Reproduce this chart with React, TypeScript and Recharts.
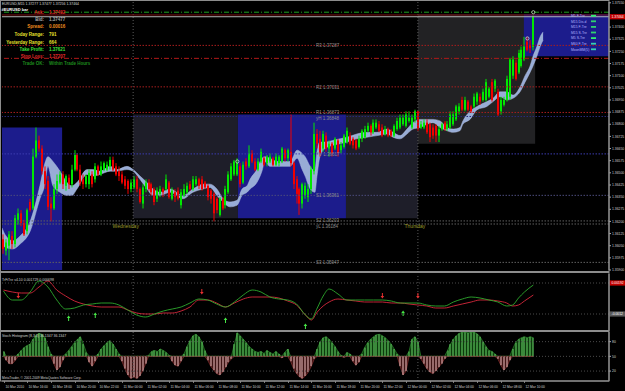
import React from "react";
import {
  ComposedChart,
  Bar,
  Area,
  Line,
  Scatter,
  XAxis,
  YAxis,
  ReferenceLine,
  ReferenceArea,
  ReferenceDot,
} from "recharts";

const FONT = "'Liberation Sans', Arial, sans-serif";
const X_DOMAIN: [number, number] = [-0.507, 204.56];
const PRICE_DOMAIN: [number, number] = [1.359, 1.37555];
const BULL = "#00e800";
const BEAR = "#f00000";
const AXIS = "#a8a8a8";
const AXIS_TXT = "#d0d0d0";

// ---------------- candles (EURUSD M15) ----------------
const candleOpen = [
  1.3609, 1.3602, 1.3605, 1.3611, 1.3606, 1.3621, 1.3625, 1.3619, 1.3614, 1.3632,
  1.3628, 1.366, 1.367, 1.3665, 1.3651, 1.3645, 1.3631, 1.3628, 1.364, 1.3644,
  1.3649, 1.3642, 1.3647, 1.3643, 1.3652, 1.3661, 1.3652, 1.3646, 1.3643, 1.3643,
  1.3649, 1.3646, 1.3654, 1.3649, 1.3652, 1.3652, 1.3654, 1.3658, 1.3654, 1.3651,
  1.3649, 1.3646, 1.3645, 1.364, 1.3641, 1.3646, 1.364, 1.3631, 1.364, 1.3644,
  1.3643, 1.364, 1.3634, 1.3637, 1.364, 1.364, 1.3644, 1.3634, 1.3638, 1.3639,
  1.363, 1.3636, 1.3638, 1.3643, 1.364, 1.3643, 1.3646, 1.3646, 1.3644, 1.3642,
  1.3639, 1.3637, 1.3634, 1.3624, 1.3634, 1.363, 1.3638, 1.3646, 1.3649, 1.3649,
  1.3654, 1.3644, 1.3657, 1.3654, 1.3662, 1.3657, 1.3652, 1.3657, 1.3659, 1.3656,
  1.3657, 1.3659, 1.3655, 1.3656, 1.3657, 1.3664, 1.3659, 1.3663, 1.3656, 1.3646,
  1.364, 1.3631, 1.3636, 1.3635, 1.364, 1.3651, 1.3674, 1.3671, 1.3665, 1.3673,
  1.3665, 1.3668, 1.3665, 1.367, 1.3664, 1.3666, 1.3669, 1.3673, 1.3671, 1.367,
  1.3666, 1.3671, 1.3672, 1.3676, 1.3679, 1.3675, 1.3678, 1.368, 1.3678, 1.3674,
  1.3677, 1.3676, 1.3673, 1.3677, 1.3678, 1.368, 1.3679, 1.3682, 1.3678, 1.3683,
  1.3688, 1.3678, 1.3678, 1.3681, 1.368, 1.3678, 1.3679, 1.3673, 1.3677, 1.3681,
  1.3677, 1.3678, 1.368, 1.3683, 1.3688, 1.3695, 1.3689, 1.3694, 1.3691, 1.3691,
  1.3694, 1.3697, 1.3695, 1.3695, 1.3697, 1.3706, 1.3702, 1.37, 1.3688, 1.3692,
  1.3695, 1.3697, 1.371, 1.3718, 1.3712, 1.3716, 1.372, 1.3731, 1.3729, 1.37277,
];
const candleHigh = [
  1.3612, 1.3609, 1.3614, 1.3614, 1.3624, 1.3628, 1.3627, 1.3621, 1.3628, 1.3634,
  1.3665, 1.3678, 1.3673, 1.3667, 1.3654, 1.3648, 1.3635, 1.3643, 1.3649, 1.3651,
  1.3651, 1.3649, 1.3649, 1.3655, 1.3664, 1.3662, 1.3655, 1.3649, 1.3649, 1.3652,
  1.3651, 1.3656, 1.3655, 1.3657, 1.3657, 1.3657, 1.366, 1.366, 1.3656, 1.3654,
  1.3651, 1.3648, 1.3646, 1.3646, 1.3648, 1.3648, 1.3641, 1.3643, 1.3646, 1.3646,
  1.3644, 1.3641, 1.3641, 1.3642, 1.3641, 1.3649, 1.3645, 1.3641, 1.364, 1.3641,
  1.364, 1.3643, 1.3644, 1.3645, 1.3648, 1.3648, 1.3647, 1.3648, 1.3645, 1.3643,
  1.364, 1.3638, 1.3635, 1.3635, 1.3635, 1.3642, 1.3651, 1.3656, 1.3658, 1.3659,
  1.3656, 1.3657, 1.3659, 1.3667, 1.3664, 1.3659, 1.3659, 1.3665, 1.366, 1.3661,
  1.3662, 1.366, 1.3662, 1.3661, 1.3666, 1.3665, 1.3665, 1.3686, 1.3657, 1.3648,
  1.3641, 1.3644, 1.3644, 1.3643, 1.3654, 1.3681, 1.3677, 1.3676, 1.3676, 1.3675,
  1.367, 1.3669, 1.3672, 1.3671, 1.3669, 1.3674, 1.3678, 1.3675, 1.3672, 1.3671,
  1.3673, 1.3677, 1.3679, 1.3681, 1.368, 1.3683, 1.3683, 1.3682, 1.368, 1.3679,
  1.3678, 1.3677, 1.368, 1.3684, 1.3686, 1.3686, 1.3688, 1.3688, 1.3686, 1.3689,
  1.3688, 1.3682, 1.3683, 1.3683, 1.3681, 1.368, 1.368, 1.3679, 1.3681, 1.3682,
  1.3682, 1.3688, 1.3688, 1.3692, 1.3693, 1.3697, 1.3697, 1.3695, 1.3692, 1.3699,
  1.37, 1.3699, 1.3702, 1.3708, 1.3703, 1.3708, 1.3708, 1.3702, 1.3697, 1.3697,
  1.371, 1.3721, 1.3722, 1.372, 1.3726, 1.3728, 1.3734, 1.3734, 1.3732, 1.37477,
];
const candleLow = [
  1.36, 1.3599, 1.3596, 1.3603, 1.3604, 1.3618, 1.3617, 1.3611, 1.3612, 1.3626,
  1.3627, 1.3659, 1.3663, 1.3649, 1.364, 1.3627, 1.362, 1.3627, 1.3637, 1.3643,
  1.364, 1.3639, 1.364, 1.3641, 1.3651, 1.3651, 1.3642, 1.364, 1.3641, 1.364,
  1.3641, 1.3644, 1.3648, 1.3648, 1.3651, 1.3651, 1.3652, 1.3651, 1.3648, 1.3645,
  1.3643, 1.364, 1.3637, 1.3638, 1.364, 1.3638, 1.3631, 1.3628, 1.3638, 1.3639,
  1.3636, 1.363, 1.3632, 1.3635, 1.3635, 1.3639, 1.3634, 1.3633, 1.3632, 1.3633,
  1.3628, 1.3635, 1.3637, 1.3639, 1.3639, 1.3642, 1.364, 1.3639, 1.364, 1.3633,
  1.3631, 1.362, 1.3625, 1.3623, 1.3627, 1.3628, 1.3637, 1.3645, 1.3648, 1.3648,
  1.3641, 1.3643, 1.3652, 1.3653, 1.3656, 1.3651, 1.3651, 1.3656, 1.3654, 1.3654,
  1.3656, 1.3654, 1.3654, 1.3654, 1.3656, 1.3657, 1.3657, 1.3654, 1.364, 1.3631,
  1.3624, 1.3628, 1.3634, 1.3632, 1.3637, 1.3649, 1.3665, 1.366, 1.3663, 1.3663,
  1.366, 1.366, 1.3664, 1.366, 1.3662, 1.3665, 1.3668, 1.3667, 1.3665, 1.3664,
  1.3665, 1.3669, 1.3671, 1.3675, 1.3673, 1.3674, 1.3677, 1.3675, 1.3672, 1.3673,
  1.3672, 1.3672, 1.3672, 1.3676, 1.3677, 1.3679, 1.3678, 1.3681, 1.3677, 1.3681,
  1.3676, 1.3677, 1.3677, 1.3674, 1.3669, 1.3671, 1.3669, 1.3669, 1.3676, 1.3676,
  1.3676, 1.3677, 1.3679, 1.3682, 1.3686, 1.3688, 1.3688, 1.3688, 1.3687, 1.369,
  1.3692, 1.3692, 1.3694, 1.3694, 1.3696, 1.3694, 1.37, 1.3685, 1.3686, 1.3691,
  1.3694, 1.3695, 1.3708, 1.3707, 1.3711, 1.3715, 1.3719, 1.3725, 1.3724, 1.37256,
];
const candleClose = [
  1.3603, 1.3607, 1.3612, 1.3606, 1.3622, 1.3625, 1.3619, 1.3612, 1.3627, 1.3627,
  1.366, 1.367, 1.3665, 1.3651, 1.3643, 1.3629, 1.3628, 1.364, 1.3645, 1.3649,
  1.3643, 1.3648, 1.3643, 1.3652, 1.3661, 1.3652, 1.3644, 1.3643, 1.3648, 1.365,
  1.3643, 1.3654, 1.3649, 1.3654, 1.3656, 1.3655, 1.3658, 1.3652, 1.3649, 1.3648,
  1.3644, 1.3642, 1.364, 1.3644, 1.3646, 1.364, 1.3632, 1.3641, 1.3644, 1.364,
  1.3638, 1.3632, 1.3639, 1.364, 1.3638, 1.3646, 1.3635, 1.3639, 1.3635, 1.3634,
  1.3638, 1.364, 1.3642, 1.364, 1.3646, 1.3646, 1.3642, 1.364, 1.3641, 1.3635,
  1.3634, 1.3625, 1.3627, 1.3634, 1.3628, 1.364, 1.3649, 1.3654, 1.3657, 1.3656,
  1.3643, 1.3655, 1.3654, 1.3662, 1.3657, 1.3652, 1.3657, 1.3663, 1.3655, 1.366,
  1.366, 1.3655, 1.366, 1.366, 1.3665, 1.3659, 1.3664, 1.3656, 1.3643, 1.3637,
  1.3631, 1.3643, 1.3642, 1.364, 1.3652, 1.3674, 1.3668, 1.3662, 1.3674, 1.3665,
  1.3668, 1.3662, 1.3671, 1.3662, 1.3667, 1.3673, 1.3676, 1.3668, 1.3667, 1.3665,
  1.3671, 1.3676, 1.3677, 1.3679, 1.3675, 1.3681, 1.3681, 1.3676, 1.3673, 1.3677,
  1.3673, 1.3673, 1.3679, 1.3682, 1.3684, 1.3684, 1.3686, 1.3684, 1.3684, 1.3688,
  1.3677, 1.368, 1.3681, 1.3675, 1.3672, 1.3673, 1.3673, 1.3677, 1.368, 1.3677,
  1.368, 1.3686, 1.3686, 1.3691, 1.3691, 1.3689, 1.3695, 1.3689, 1.3688, 1.3697,
  1.3699, 1.3694, 1.37, 1.3706, 1.3702, 1.3695, 1.3707, 1.3686, 1.3695, 1.3695,
  1.3708, 1.372, 1.372, 1.3708, 1.3724, 1.3726, 1.3728, 1.3726, 1.3727, 1.37464,
];

// Stoch histogram (8,3,3), one value per candle
const stochValues = [
  60, 42, 35, 35, 42, 55, 62, 68, 72, 75,
  85, 93, 97, 95, 88, 70, 55, 35, 22, 28,
  42, 55, 62, 70, 78, 85, 90, 75, 58, 38,
  30, 40, 55, 65, 72, 78, 82, 75, 65, 55,
  40, 25, 12, 5, 8, 5, 10, 20, 35, 52,
  60, 62, 60, 65, 62, 58, 52, 40, 32, 30,
  40, 55, 70, 82, 92, 95, 90, 80, 62, 42,
  30, 22, 15, 12, 18, 28, 38, 45, 75, 98,
  92, 85, 78, 70, 65, 60, 58, 60, 56, 62,
  58, 55, 60, 55, 47, 58, 65, 40, 25, 15,
  8, 5, 10, 18, 30, 45, 65, 80, 88, 90,
  85, 78, 70, 60, 52, 48, 58, 55, 40, 32,
  38, 55, 68, 78, 85, 90, 94, 95, 92, 88,
  82, 75, 65, 55, 30, 12, 20, 60, 85, 90,
  80, 45, 35, 25, 18, 15, 20, 28, 35, 45,
  62, 75, 85, 92, 97, 99, 99, 98, 99, 99,
  96, 90, 80, 70, 62, 60, 55, 45, 32, 22,
  28, 42, 65, 78, 85, 88, 90, 88, 90, 88,
];

// smoothed band drawn with price
const cloudIdx = [
  -0.5, 0.5, 3.2, 5.6, 9.0, 12.3, 14.0, 15.0, 16.7, 19.1, 21.5, 23.1, 24.8, 28.2, 30.2,
  32.6, 36.0, 38.3, 41.7, 43.8, 46.1, 48.5, 50.5, 52.9, 56.3, 60.6, 64.0, 67.4, 69.8,
  72.1, 74.2, 76.5, 78.9, 80.6, 82.3, 83.3, 85.6, 87.3, 88.3, 90.0, 92.4, 94.4, 96.8,
  99.2, 100.9, 101.9, 103.6, 105.2, 105.9, 106.9, 108.6, 111.3, 113.7, 116.1, 119.4,
  122.8, 126.2, 129.6, 131.6, 134.0, 136.3, 138.3, 140.7, 143.1, 145.1, 147.5, 149.8,
  151.9, 154.2, 155.2, 157.6, 160.0, 163.3, 165.4, 167.7, 170.1, 172.1, 174.5, 176.2,
  177.9, 178.9, 180.2, 181.3, 182.3,
];
const cloudTop = [
  1.3616, 1.3612, 1.3608, 1.3611, 1.362, 1.3642, 1.3656, 1.366, 1.3657, 1.3651, 1.3644,
  1.3642, 1.3644, 1.3652, 1.3652, 1.3651, 1.3654, 1.3652, 1.3654, 1.3652, 1.3648, 1.3644,
  1.364, 1.3638, 1.364, 1.3636, 1.364, 1.3643, 1.3643, 1.364, 1.3634, 1.3632, 1.3633,
  1.364, 1.3642, 1.3646, 1.3652, 1.3659, 1.366, 1.3659, 1.3657, 1.3657, 1.3657, 1.3664,
  1.3662, 1.366, 1.3654, 1.3651, 1.3663, 1.3669, 1.3669, 1.367, 1.3671, 1.3672, 1.3674,
  1.3675, 1.3675, 1.3677, 1.3675, 1.3673, 1.3677, 1.3681, 1.3683, 1.3683, 1.3683, 1.3682,
  1.3678, 1.3677, 1.3678, 1.3682, 1.3688, 1.3691, 1.3694, 1.3696, 1.37, 1.37, 1.3698,
  1.3703, 1.371, 1.3716, 1.3722, 1.3728, 1.3734, 1.3737,
];
const cloudBot = [
  1.3609, 1.3604, 1.3603, 1.3606, 1.3614, 1.3634, 1.3643, 1.3654, 1.3642, 1.3638, 1.3636,
  1.3636, 1.364, 1.3649, 1.3648, 1.3649, 1.3651, 1.3651, 1.3652, 1.3651, 1.3646, 1.364,
  1.3636, 1.3636, 1.3638, 1.3634, 1.3638, 1.364, 1.3641, 1.3636, 1.3632, 1.3629, 1.363,
  1.3636, 1.3638, 1.364, 1.3644, 1.3651, 1.3657, 1.3654, 1.3654, 1.3654, 1.3654, 1.3659,
  1.3652, 1.3648, 1.364, 1.3638, 1.3648, 1.366, 1.3665, 1.3667, 1.3668, 1.3669, 1.3671,
  1.3672, 1.3673, 1.3674, 1.3672, 1.3671, 1.3674, 1.3677, 1.3678, 1.368, 1.3681, 1.3678,
  1.3676, 1.3675, 1.3676, 1.368, 1.3683, 1.3689, 1.3691, 1.3694, 1.3697, 1.3695, 1.3696,
  1.37, 1.3706, 1.3712, 1.3716, 1.3722, 1.3728, 1.3732,
];

// signal circles on price
const markerIdx = [79, 177, 179];
const markerPrice = [1.3657, 1.3733, 1.37492];

// session / range boxes
const boxX1 = [-0.6, 43.8, 79.2, 115.7, 140.0, 175.8];
const boxX2 = [19.8, 79.2, 115.7, 140.0, 179.6, 204.6];
const boxLow = [1.359, 1.3622, 1.3622, 1.3622, 1.3668, 1.3722];
const boxHigh = [1.3678, 1.3686, 1.3686, 1.3686, 1.3748, 1.3748];
const boxFill = ["#1c1c8c", "#1e1e29", "#1c1c8c", "#1e1e29", "#222224", "#1c1c8c"];

// pivot levels
const levelNames = ["R3", "R2", "R1", "yH", "PV", "S1", "S2", "yL", "S3"];
const levelValues = [1.37287, 1.37031, 1.36873, 1.36848, 1.36617, 1.36361, 1.36203, 1.36184, 1.35947];
const levelColors = ["#a81e1e", "#a81e1e", "#a81e1e", "#2a2a7a", "#3c3cb0", "#4c4c7c", "#606060", "#606060", "#606060"];
const levelLabelDy = [1.8, 1.8, 1.2, 3.2, 2, 2, 0.8, 3.6, 2];

const askPrice = 1.37492;
const bidPrice = 1.37464;
const dayHighLine = 1.37475;
const stopLoss = 1.37207;

const dayLineIdx = [43.8, 140.0];
const dayNames = ["Wednesday", "Thursday"];
const dayLabelIdx = [41.3, 139.0];
const dayLabelPrice = 1.3617;

const priceTicks = [
  1.3755, 1.374, 1.37325, 1.3725, 1.37175, 1.371, 1.37025, 1.3695, 1.36875, 1.368,
  1.36725, 1.3665, 1.36575, 1.365, 1.36425, 1.3635, 1.36275, 1.362, 1.36125, 1.3605,
  1.35975, 1.359,
];

// time axis
const timeTickIdx = [0, 8, 16, 24, 32, 40, 48, 56, 64, 72, 80, 88, 96, 104, 112, 120, 128, 136, 144, 152, 160, 168, 176];
const timeTickLabels = [
  "10 Mar 2010", "10 Mar 16:00", "10 Mar 18:00", "10 Mar 20:00", "10 Mar 22:00",
  "11 Mar 00:00", "11 Mar 02:00", "11 Mar 04:00", "11 Mar 06:00", "11 Mar 08:00",
  "11 Mar 10:00", "11 Mar 12:00", "11 Mar 14:00", "11 Mar 16:00", "11 Mar 18:00",
  "11 Mar 20:00", "11 Mar 22:00", "12 Mar 00:00", "12 Mar 02:00", "12 Mar 04:00",
  "12 Mar 06:00", "12 Mar 08:00", "12 Mar 10:00",
];

// trend oscillator panel
const triIdx = [
  0, 3, 6, 9, 12, 15, 18, 21, 24, 27, 30, 33, 36, 39, 42, 45, 48, 51, 54, 57, 60, 63, 66, 69,
  72, 75, 78, 81, 84, 87, 90, 93, 96, 99, 102, 104, 106, 108, 110, 113, 116, 119, 122, 125,
  128, 131, 134, 137, 140, 143, 146, 149, 152, 155, 158, 161, 164, 167, 170, 172, 174, 176, 179,
];
const triGreen = [
  0.0011, 0.0002, 0.0002, 0.001, 0.0021, 0.0015, 0.0002, -0.0007, -0.0006, -0.0003,
  -0.0002, -0.0001, -0.0001, -0.0003, -0.0008, -0.0013, -0.0015, -0.0012, -0.0009, -0.0007,
  -0.0005, -0.0001, 0.0003, 0.0002, -0.0002, -0.0005, 0.0, 0.0007, 0.0012, 0.001,
  0.0005, 0.0003, 0.0002, -0.0002, -0.0013, -0.0017, -0.0006, 0.0006, 0.0013, 0.0008,
  0.0002, 0.0002, 0.0002, 0.0002, 0.0002, 0.0001, -0.0001, -0.0001, -0.0001, -0.0003,
  -0.0004, -0.0004, 0.0, 0.0003, 0.0005, 0.0004, 0.0002, 0.0, -0.0004, -0.0003,
  0.0004, 0.001, 0.0017,
];
const triRed = [
  0.0012, 0.001, 0.0009, 0.0009, 0.0015, 0.0021, 0.0012, 0.0006, 0.0001, -0.0002,
  -0.0004, -0.0005, -0.0005, -0.0005, -0.0008, -0.0011, -0.0012, -0.0012, -0.0011, -0.0011,
  -0.0009, -0.0005, 0.0002, 0.0002, -0.0001, -0.0005, -0.0001, 0.0003, 0.0005, 0.0005,
  0.0005, 0.0004, 0.0001, -0.0003, -0.0013, -0.0018, -0.001, -0.0004, 0.0, 0.0003,
  0.0002, 0.0001, 0.0, 0.0, 0.0, -0.0001, -0.0001, -0.0002, -0.0003, -0.0004,
  -0.0006, -0.0006, -0.0004, -0.0002, 0.0, 0.0002, 0.0002, 0.0001, -0.0001, -0.0004,
  -0.0003, 0.0001, 0.0007,
];
const sellIdx = [5, 67, 128, 140];
const sellVal = [0.0006, 0.001, 0.0006, 0.0006];
const buyIdx = [22, 31, 75, 102, 135];
const buyVal = [-0.0016, -0.0013, -0.0018, -0.0024, -0.0011];

// ---------------- assembled tables ----------------
const candles = candleOpen.map((o, k) => ({
  i: k,
  o,
  h: candleHigh[k],
  l: candleLow[k],
  c: candleClose[k],
  st: stochValues[k],
}));
const cloud = cloudIdx.map((i, k) => ({ i, hi: cloudTop[k], lo: cloudBot[k] }));
const markers = markerIdx.map((i, k) => ({ i, p: markerPrice[k] }));
const tri = triIdx.map((i, k) => ({ i, g: triGreen[k], r: triRed[k] }));
const sells = sellIdx.map((i, k) => ({ i, v: sellVal[k] }));
const buys = buyIdx.map((i, k) => ({ i, v: buyVal[k] }));

// ---------------- shapes ----------------
const CandleShape = (props: any) => {
  const { x, y, width, height, payload } = props;
  if (!payload || payload.o == null || !isFinite(y) || !isFinite(height)) return null;
  const { o, h, l, c } = payload;
  const top = Math.min(y, y + height);
  const hh = Math.abs(height);
  const k = h - l > 0 ? hh / (h - l) : 0;
  const yO = top + (h - o) * k;
  const yC = top + (h - c) * k;
  const color = c >= o ? BULL : BEAR;
  const px = Math.round(x + width / 2);
  const bTop = Math.min(yO, yC);
  const bH = Math.max(1, Math.abs(yC - yO));
  return (
    <g>
      <rect x={px - 0.5} y={top} width={1} height={Math.max(1, hh)} fill={color} />
      <rect x={px - 1} y={bTop} width={2} height={bH} fill={color} />
    </g>
  );
};

const StochBar = (props: any) => {
  const { x, y, width, height, payload } = props;
  if (!payload || !isFinite(y) || !isFinite(height)) return null;
  const top = Math.min(y, y + height);
  const hh = Math.abs(height);
  const px = Math.round(x + width / 2);
  return <rect x={px - 0.5} y={top} width={1} height={hh} fill={payload.st >= 50 ? "#6ad86a" : "#f2c2c2"} />;
};

const MarkerShape = (props: any) => {
  const { cx, cy } = props;
  if (!isFinite(cx) || !isFinite(cy)) return null;
  return <circle cx={cx} cy={cy} r={1.6} fill="none" stroke="#d8f0d8" strokeWidth={0.7} />;
};

const DownArrow = (props: any) => {
  const { cx, cy } = props;
  if (!isFinite(cx) || !isFinite(cy)) return null;
  return (
    <g>
      <rect x={cx - 0.5} y={cy - 3} width={1} height={3} fill="#e83030" />
      <path d={`M${cx - 1.8},${cy} L${cx + 1.8},${cy} L${cx},${cy + 2.4} Z`} fill="#e83030" />
    </g>
  );
};

const UpArrow = (props: any) => {
  const { cx, cy } = props;
  if (!isFinite(cx) || !isFinite(cy)) return null;
  return (
    <g>
      <rect x={cx - 0.5} y={cy} width={1} height={3} fill="#48e848" />
      <path d={`M${cx - 1.8},${cy} L${cx + 1.8},${cy} L${cx},${cy - 2.4} Z`} fill="#48e848" />
    </g>
  );
};

const TimeTick = (props: any) => {
  const { x, y, payload } = props;
  const k = timeTickIdx.indexOf(payload && payload.value);
  return (
    <g>
      <rect x={Math.round(x)} y={y} width={0.8} height={2} fill="#9a9a9a" />
      <text x={Math.round(x) + 1.5} y={y + 7} fontSize={3.3} fill={AXIS_TXT} fontFamily={FONT}>
        {k >= 0 ? timeTickLabels[k] : ""}
      </text>
    </g>
  );
};

const pivotLabel = (text: string, dy: number) => (p: any) => {
  const vb = (p && p.viewBox) || {};
  return (
    <text x={(vb.x || 0) + 314} y={(vb.y || 0) + dy} fontSize={4.5} fill="#8e8e8e" fontFamily={FONT}>
      {text}
    </text>
  );
};

const priceBox = (text: string, fill: string) => (p: any) => {
  const vb = (p && p.viewBox) || {};
  const xr = (vb.x || 0) + (vb.width || 0);
  const yy = vb.y || 0;
  return (
    <g>
      <rect x={xr + 0.5} y={yy - 2.6} width={16} height={5.2} fill={fill} />
      <text x={xr + 2.5} y={yy + 1.4} fontSize={3.4} fill="#ffffff" fontFamily={FONT}>
        {text}
      </text>
    </g>
  );
};

const dayLabel = (text: string) => (p: any) => {
  const vb = (p && p.viewBox) || {};
  return (
    <text
      x={(vb.x || 0) + (vb.width || 0) / 2}
      y={(vb.y || 0) + 1.8}
      textAnchor="middle"
      fontSize={5}
      fill="#9c9c2a"
      fontFamily={FONT}
    >
      {text}
    </text>
  );
};

// ---------------- info overlay texts ----------------
const infoLabels = ["Ask:", "Bid:", "Spread:", "Today Range:", "Yesterday Range:", "Take Profit:", "Stop Loss:", "Trade OK:"];
const infoValues = ["1.37492", "1.37477", "0.00016", "791", "664", "1.37621", "1.37207", "Within Trade Hours"];
const infoColors = ["#e02424", "#a8a8a8", "#f08c1e", "#e6e02c", "#e6e02c", "#3ce03c", "#e02828", "#1e8c1e"];
const infoY = [13.8, 21, 28.3, 36, 43.5, 50.8, 58, 65.2];

const legendNames = ["M5 F-Tre", "M15 Dis.d", "M15 F-Tre", "M15 S-Tre", "M5 S-Tre", "M60 F-Tre", "MoonMM(5)"];
const legendColors = ["#30f070", "#30d070", "#30d070", "#30d070", "#30f070", "#38d0b0", "#38d0b0"];
const legendY = [17, 22.6, 28.2, 33.8, 39.4, 45, 50.6];

export default function App() {
  const frame = "#8c8c8c";
  return (
    <div style={{ position: "fixed", left: 0, top: 0, width: 625, height: 391, background: "#000", overflow: "hidden" }}>
      {/* ---------- main price window ---------- */}
      <ComposedChart
        width={625}
        height={272}
        data={candles}
        margin={{ top: 2, right: 0, bottom: 2, left: 2 }}
        style={{ position: "absolute", left: 0, top: 0 }}
      >
        <XAxis dataKey="i" type="number" domain={X_DOMAIN} allowDataOverflow hide />
        <YAxis
          orientation="right"
          width={16}
          type="number"
          domain={PRICE_DOMAIN}
          allowDataOverflow
          ticks={priceTicks}
          interval={0}
          tickFormatter={(v: number) => v.toFixed(5)}
          tick={{ fill: AXIS_TXT, fontSize: 3.4, fontFamily: FONT }}
          tickSize={2}
          tickMargin={1}
          axisLine={{ stroke: AXIS }}
          tickLine={{ stroke: AXIS }}
        />
        {boxX1.map((x1, k) => (
          <ReferenceArea
            key={"box" + k}
            x1={x1}
            x2={boxX2[k]}
            y1={boxLow[k]}
            y2={boxHigh[k]}
            fill={boxFill[k]}
            fillOpacity={1}
            stroke="none"
            ifOverflow="hidden"
          />
        ))}
        {dayLineIdx.map((x, k) => (
          <ReferenceLine key={"day" + k} x={x} stroke="#5a5a5a" strokeDasharray="1 2" />
        ))}
        {levelValues.map((v, k) => (
          <ReferenceLine
            key={"lvl" + k}
            y={v}
            stroke={levelColors[k]}
            strokeDasharray="1.5 1.5"
            label={pivotLabel(levelNames[k] + "  " + v.toFixed(5), levelLabelDy[k])}
          />
        ))}
        <ReferenceLine y={stopLoss} stroke="#b01818" strokeDasharray="5 2 1 2" />
        <ReferenceLine y={askPrice} stroke="#1ea01e" strokeDasharray="5 2 1 2" />
        <ReferenceLine y={dayHighLine} stroke="#7a1010" />
        <ReferenceLine y={bidPrice} stroke="#b4b4b4" label={priceBox(bidPrice.toFixed(5), "#c40000")} />
        {dayNames.map((n, k) => (
          <ReferenceDot key={"dn" + k} x={dayLabelIdx[k]} y={dayLabelPrice} r={0} fill="none" stroke="none" label={dayLabel(n)} />
        ))}
        <Area
          data={cloud}
          dataKey={(d: any) => [d.lo, d.hi]}
          type="monotone"
          fill="#98acd6"
          fillOpacity={1}
          stroke="#aebfe2"
          strokeWidth={0.5}
          dot={false}
          activeDot={false}
          isAnimationActive={false}
        />
        <Bar dataKey={(d: any) => [d.l, d.h]} barSize={3} shape={CandleShape} isAnimationActive={false} />
        <Scatter data={markers} dataKey="p" shape={MarkerShape} isAnimationActive={false} />
      </ComposedChart>

      {/* ---------- trend oscillator window ---------- */}
      <ComposedChart
        width={625}
        height={60}
        data={tri}
        margin={{ top: 2, right: 0, bottom: 1, left: 2 }}
        style={{ position: "absolute", left: 0, top: 272 }}
      >
        <XAxis dataKey="i" type="number" domain={X_DOMAIN} allowDataOverflow hide />
        <YAxis
          orientation="right"
          width={16}
          type="number"
          domain={[-0.0029, 0.0028]}
          allowDataOverflow
          ticks={[]}
          tick={false}
          axisLine={{ stroke: AXIS }}
          tickLine={false}
        />
        {dayLineIdx.map((x, k) => (
          <ReferenceLine key={"d1" + k} x={x} stroke="#5a5a5a" strokeDasharray="1 2" />
        ))}
        <ReferenceLine y={0.0019} stroke="#4a4a4a" strokeDasharray="1 2" label={priceBox("0.00192", "#c40000")} />
        <ReferenceLine y={-0.0012} stroke="#4a4a4a" strokeDasharray="1 2" label={priceBox("-0.0012", "#5a5a5a")} />
        <Line dataKey="r" type="monotone" stroke="#d8283c" strokeWidth={0.9} dot={false} activeDot={false} isAnimationActive={false} />
        <Line dataKey="g" type="monotone" stroke="#2eaa2e" strokeWidth={0.9} dot={false} activeDot={false} isAnimationActive={false} />
        <Scatter data={sells} dataKey="v" shape={DownArrow} isAnimationActive={false} />
        <Scatter data={buys} dataKey="v" shape={UpArrow} isAnimationActive={false} />
      </ComposedChart>

      {/* ---------- stoch histogram window + time axis ---------- */}
      <ComposedChart
        width={625}
        height={60}
        data={candles}
        margin={{ top: 1, right: 0, bottom: 0, left: 2 }}
        style={{ position: "absolute", left: 0, top: 331 }}
      >
        <XAxis
          dataKey="i"
          type="number"
          domain={X_DOMAIN}
          allowDataOverflow
          ticks={timeTickIdx}
          interval={0}
          tick={TimeTick}
          tickLine={false}
          tickSize={0}
          tickMargin={0}
          height={10}
          axisLine={{ stroke: AXIS }}
        />
        <YAxis
          orientation="right"
          width={16}
          type="number"
          domain={[-0.27, 99.69]}
          allowDataOverflow
          ticks={[80, 50, 20]}
          interval={0}
          tickFormatter={(v: number) => String(v)}
          tick={{ fill: AXIS_TXT, fontSize: 3.4, fontFamily: FONT }}
          tickSize={2}
          tickMargin={1}
          axisLine={{ stroke: AXIS }}
          tickLine={{ stroke: AXIS }}
        />
        {dayLineIdx.map((x, k) => (
          <ReferenceLine key={"d2" + k} x={x} stroke="#5a5a5a" strokeDasharray="1 2" />
        ))}
        <ReferenceLine y={80} stroke="#4a4a4a" strokeDasharray="1 2" />
        <ReferenceLine y={50} stroke="#4a4a4a" strokeDasharray="1 2" />
        <ReferenceLine y={20} stroke="#4a4a4a" strokeDasharray="1 2" />
        <Area
          dataKey={(d: any) => [50, Math.max(50, d.st)]}
          type="linear"
          fill="#0c3a0c"
          fillOpacity={1}
          stroke="#2c8a2c"
          strokeWidth={0.7}
          dot={false}
          activeDot={false}
          isAnimationActive={false}
        />
        <Area
          dataKey={(d: any) => [Math.min(50, d.st), 50]}
          type="linear"
          fill="#3e1414"
          fillOpacity={1}
          stroke="#8a3030"
          strokeWidth={0.7}
          dot={false}
          activeDot={false}
          isAnimationActive={false}
        />
        <Bar dataKey={(d: any) => [50, d.st]} barSize={1} shape={StochBar} isAnimationActive={false} />
      </ComposedChart>

      {/* ---------- frames and texts ---------- */}
      <svg width={625} height={391} style={{ position: "absolute", left: 0, top: 0, pointerEvents: "none" }}>
        <rect x={0.5} y={0.5} width={608.5} height={271} fill="none" stroke={frame} strokeWidth={1} />
        <rect x={0.5} y={272.5} width={608.5} height={58} fill="none" stroke={frame} strokeWidth={1} />
        <rect x={0.5} y={331.5} width={608.5} height={49.5} fill="none" stroke={frame} strokeWidth={1} />

        <text x={2} y={5.2} fontSize={3.5} fill="#d8d8d8" fontFamily={FONT}>
          EURUSD,M15  1.37277 1.37477 1.37256 1.37464
        </text>
        <text x={1.5} y={11.2} fontSize={4} fontWeight="bold" fill="#ffffff" fontFamily={FONT}>
          #EURUSD bar
        </text>
        {infoLabels.map((t, k) => (
          <g key={"inf" + k}>
            <text x={44} y={infoY[k]} textAnchor="end" fontSize={4.5} fontWeight="bold" fill={infoColors[k]} fontFamily={FONT}>
              {t}
            </text>
            <text x={49} y={infoY[k]} fontSize={4.5} fontWeight="bold" fill={infoColors[k]} fontFamily={FONT}>
              {infoValues[k]}
            </text>
          </g>
        ))}

        {legendNames.map((t, k) => (
          <g key={"lg" + k}>
            <text x={571} y={legendY[k]} fontSize={3.4} fill="#b4b4ff" fontFamily={FONT}>
              {t}
            </text>
            <rect x={591} y={legendY[k] - 2.2} width={5} height={1.8} fill={legendColors[k]} />
          </g>
        ))}

        <text x={2} y={280.5} fontSize={3.5} fill="#d0d0d0" fontFamily={FONT}>
          TrFiTre v4.10 0.001729 0.000698
        </text>
        <text x={2} y={337} fontSize={3.5} fill="#d0d0d0" fontFamily={FONT}>
          Stoch Histogram (8,3,3) 36.1347 36.1347
        </text>
        <text x={2} y={378.5} fontSize={3.3} fill="#d0d0d0" fontFamily={FONT}>
          MetaTrader, © 2001-2009 MetaQuotes Software Corp.
        </text>
      </svg>
    </div>
  );
}
